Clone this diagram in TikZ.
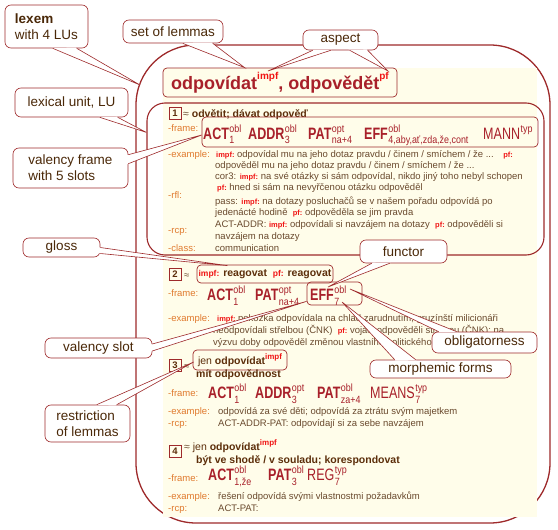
\documentclass[tikz,border=0pt]{standalone}
\usepackage{fontspec}
\setmainfont{Liberation Sans}
\newfontfamily\slotfont[FakeStretch=0.76]{Liberation Sans}
\newfontfamily\slotscrfont[FakeStretch=0.85]{Liberation Sans}
\usetikzlibrary{calc}

\definecolor{lnred}{HTML}{9E2A2B}
\definecolor{slotred}{HTML}{A8202A}
\definecolor{hired}{HTML}{F01414}
\definecolor{lblorange}{HTML}{E07A2E}
\definecolor{bodytxt}{HTML}{6A4A2E}
\definecolor{glosstxt}{HTML}{5C2E0A}
\definecolor{calltxt}{HTML}{4A2808}
\definecolor{cream}{HTML}{FFFDEA}

\newcommand\bodyfont{\fontsize{9.5}{11}\selectfont}
\newcommand\glossfont{\fontsize{10.5}{12}\selectfont\bfseries}
\newcommand\callfont{\fontsize{13.5}{16}\selectfont}
\newcommand\framefont{\slotfont\fontsize{16.5}{18}\selectfont}
\newcommand\lemmafont{\fontsize{18}{20}\selectfont\bfseries}

% red aspect marks
\newcommand\ipf{{\color{hired}\fontsize{7.5}{9}\selectfont\bfseries impf:}}
\newcommand\pff{{\color{hired}\fontsize{7.5}{9}\selectfont\bfseries pf:}}
\newcommand\supred[1]{\raisebox{5pt}{\color{hired}\fontsize{8}{9}\selectfont\bfseries #1}}
\newcommand\lemsup[1]{\raisebox{10pt}{\color{hired}\fontsize{10}{11}\selectfont\bfseries #1}}

% valency slot: functor with stacked scripts
\newcommand\slotscripts[2]{{\slotscrfont\fontsize{10.5}{12}\selectfont\mdseries
  \setbox0=\hbox{\raisebox{7pt}{#1}}\setbox2=\hbox{\raisebox{-5pt}{#2}}%
  \ifdim\wd0>\wd2\relax\rlap{\box2}\box0\else\rlap{\box0}\box2\fi}}
\newcommand\valslot[3]{\textbf{#1}\kern0.5pt\slotscripts{#2}{#3}}
\newcommand\valslotn[3]{#1\kern0.5pt\slotscripts{#2}{#3}}

% callout pointer
\newcommand\pointto[3]{%
  \fill[white] ($(#1)!-1.2pt!(#3)$) -- (#3) -- ($(#2)!-1.2pt!(#3)$) -- cycle;
  \draw[pointer] (#1) -- (#3) -- (#2);}

\begin{document}
\begin{tikzpicture}[x=1pt,y=-1pt,
  every node/.style={inner sep=0pt},
  lexbox/.style={draw=lnred, line width=1.3pt, fill=white, rounded corners=60pt},
  lubox/.style={draw=lnred, line width=1.1pt, rounded corners=18pt},
  lemmabox/.style={draw=lnred, line width=0.7pt, rounded corners=4pt, fill=cream, text=slotred, font=\lemmafont},
  numbox/.style={draw=lnred, line width=0.7pt, minimum width=12pt, minimum height=12pt, text=glosstxt, font=\bodyfont\bfseries},
  hlbox/.style={draw=lnred, line width=0.7pt, rounded corners=4pt},
  lbl/.style={anchor=base west, text=lblorange, font=\bodyfont},
  ln/.style={anchor=base west, text=bodytxt, font=\bodyfont},
  gl/.style={anchor=base west, text=glosstxt, font=\glossfont},
  slotlbl/.style={anchor=base west, text=slotred, font=\framefont},
  callout/.style={draw=lnred, line width=0.6pt, fill=white, rounded corners=6pt, text=calltxt, font=\callfont, align=left},
  pointer/.style={draw=lnred, line width=0.6pt, line join=miter}
]
\useasboundingbox (0,0) rectangle (558,530);

% lexeme
\node[lexbox, minimum width=414pt, minimum height=478pt] (lexeme) at (343,284) {};
\fill[cream] (163,68) rectangle (537,517);
\node[lemmabox, minimum width=234pt, minimum height=29pt] (lemmas) at (280,82.5)
  {odpovídat\lemsup{impf}, odpovědět\lemsup{pf}};

% lexical unit 1
\node[lubox, minimum width=397pt, minimum height=152pt] (lu1) at (345.5,179) {};
\foreach \n/\yy in {1/113,2/274,3/365,4/451}
  \node[numbox] (num\n) at (175,\yy) {\n};
\foreach \lab/\yy [count=\i] in {-frame:/131,-example:/157,-rfl:/198,-rcp:/233,-class:/251,
    -frame:/296,-example:/321,-frame:/396,-example:/414,-rcp:/426,-frame:/481,-example:/499,-rcp:/511}
  \node[lbl] (lab\i) at (168,\yy) {\lab};

\node[gl] (gloss1) at (183,117) {\mdseries\color{bodytxt}≈ \color{glosstxt}\bfseries odvětit; dávat odpověď};
\node[hlbox, minimum width=336pt, minimum height=30pt] (frame1) at (370,132) {};
\node[slotlbl] (act1) at (203,139) {\valslot{ACT}{obl}{1}};
\node[slotlbl] (addr1) at (248,139) {\valslot{ADDR}{obl}{3}};
\node[slotlbl] (pat1) at (308,139) {\valslot{PAT}{opt}{na+4}};
\node[slotlbl] (eff1) at (364,139) {\valslot{EFF}{obl}{4,aby,ať,zda,že,cont}};
\node[slotlbl] (mann1) at (483,139) {\valslotn{MANN}{typ}{}};

\node[ln] (ex1a) at (216,157) {\ipf\ odpovídal mu na jeho dotaz pravdu / činem / smíchem / že ...\quad\pff};
\node[ln] (ex1b) at (215,168) {odpověděl mu na jeho dotaz pravdu / činem / smíchem / že ...};
\node[ln] (ex1c) at (215,179) {cor3: \ipf\ na své otázky si sám odpovídal, nikdo jiný toho nebyl schopen};
\node[ln] (ex1d) at (217,190) {\pff\ hned si sám na nevyřčenou otázku odpověděl};
\node[ln] (ex1e) at (215,204) {pass: \ipf\ na dotazy posluchačů se v našem pořadu odpovídá po};
\node[ln] (ex1f) at (215,215) {jedenácté hodině \ \pff\ odpověděla se jim pravda};
\node[ln] (ex1g) at (215,227) {ACT-ADDR: \ipf\ odpovídali si navzájem na dotazy \ \pff\ odpověděli si};
\node[ln] (ex1h) at (215,239) {navzájem na dotazy};
\node[ln] (ex1i) at (215,251) {communication};

% lexical unit 2
\node[ln] (ap2) at (184,278) {≈};
\node[hlbox, minimum width=136pt, minimum height=18pt, text=glosstxt, font=\glossfont] (gloss2) at (265,274)
  {{\color{hired}\fontsize{8.5}{10}\selectfont impf:} reagovat\ \ {\color{hired}\fontsize{8.5}{10}\selectfont pf:} reagovat};
\node[slotlbl] (act2) at (207,300) {\valslot{ACT}{obl}{1}};
\node[slotlbl] (pat2) at (255,300) {\valslot{PAT}{opt}{na+4}};
\node[slotlbl] (eff2) at (310,300) {\valslot{EFF}{obl}{7}};
\node[hlbox, minimum width=55pt, minimum height=23pt] (effbox) at (334.5,293.5) {};
\node[ln] (ex2a) at (217,321) {\ipf\ pokožka odpovídala na chlad zarudnutím; gruzínští milicionáři};
\node[ln] (ex2b) at (213,333) {neodpovídali střelbou (ČNK) \ \pff\ vojáci odpověděli střelbou (ČNK); na};
\node[ln] (ex2c) at (213,345) {výzvu doby odpověděl změnou vlastního politického};

% lexical unit 3
\node[ln] (ap3) at (184,369) {≈};
\node[hlbox, minimum width=94pt, minimum height=20pt, text=glosstxt, font=\glossfont] (restr3) at (240,360)
  {\mdseries jen \bfseries odpovídat\supred{impf}};
\node[gl] (gloss3) at (196,377) {mít odpovědnost};
\node[slotlbl] (act3) at (208,398) {\valslot{ACT}{obl}{1}};
\node[slotlbl] (addr3) at (255,398) {\valslot{ADDR}{opt}{3}};
\node[slotlbl] (pat3) at (317,398) {\valslot{PAT}{obl}{za+4}};
\node[slotlbl] (means3) at (370,398) {\valslotn{MEANS}{typ}{7}};
\node[ln] (ex3a) at (218,414) {odpovídá za své děti; odpovídá za ztrátu svým majetkem};
\node[ln] (ex3b) at (218,426) {ACT-ADDR-PAT: odpovídají si za sebe navzájem};

% lexical unit 4
\node[gl] (restr4) at (184,450) {\mdseries\color{bodytxt}≈ \color{glosstxt}jen \bfseries odpovídat\supred{impf}};
\node[gl] (gloss4) at (196,463) {být ve shodě / v souladu; korespondovat};
\node[slotlbl] (act4) at (208,480) {\valslot{ACT}{obl}{1,že}};
\node[slotlbl] (pat4) at (268,480) {\valslot{PAT}{obl}{3}};
\node[slotlbl] (reg4) at (307,480) {\valslotn{REG}{typ}{7}};
\node[ln] (ex4a) at (218,499) {řešení odpovídá svými vlastnostmi požadavkům};
\node[ln] (ex4b) at (218,511) {ACT-PAT:};

% callouts
\node[callout, minimum width=83pt, minimum height=43pt] (lexem) at (46.5,26.5) {\textbf{lexem}\\with 4 LUs};
\coordinate (lexA) at ($(lexem.south west)+(48,0)$);
\coordinate (lexB) at ($(lexem.south west)+(72,0)$);
\coordinate (lextip) at (140,85);
\pointto{lexA}{lexB}{lextip}

\node[callout, minimum width=100pt, minimum height=23pt] (setlem) at (173,31.5) {set of lemmas};
\coordinate (setA) at ($(setlem.south west)+(60,0)$);
\coordinate (setB) at ($(setlem.south west)+(90,0)$);
\coordinate (settip) at ($(lemmas.north west)+(82,0)$);
\pointto{setA}{setB}{settip}

\node[callout, minimum width=75pt, minimum height=20pt] (aspect) at (340.5,40) {aspect};
\coordinate (aspA) at ($(aspect.south west)+(10,0)$);
\coordinate (aspB) at ($(aspect.south west)+(28,0)$);
\coordinate (aspC) at ($(aspect.south west)+(47,0)$);
\coordinate (aspD) at ($(aspect.south west)+(65,0)$);
\coordinate (imptip) at (268,71);
\coordinate (pftip) at (388,71);
\pointto{aspA}{aspB}{imptip}
\pointto{aspC}{aspD}{pftip}

\node[callout, minimum width=113pt, minimum height=29pt] (lu) at (71.5,102.5) {lexical unit, LU};
\coordinate (luA) at ($(lu.south west)+(85,0)$);
\coordinate (luB) at ($(lu.south west)+(103,0)$);
\coordinate (lutip) at ($(lu1.north west)+(0,30)$);
\pointto{luA}{luB}{lutip}

\node[callout, minimum width=115pt, minimum height=40pt] (vframe) at (70.5,168) {valency frame\\with 5 slots};
\coordinate (vfA) at ($(vframe.north east)+(0,7)$);
\coordinate (vfB) at ($(vframe.north east)+(0,16)$);
\coordinate (vftip) at ($(frame1.west)+(0,3)$);
\pointto{vfA}{vfB}{vftip}

\node[callout, minimum width=77pt, minimum height=19pt] (gloss) at (61.5,247.5) {gloss};
\coordinate (glA) at ($(gloss.east)+(0,0)$);
\coordinate (glB) at ($(gloss.east)+(0,6)$);
\coordinate (gltip) at ($(gloss2.north west)+(31,1)$);
\pointto{glA}{glB}{gltip}

\node[callout, minimum width=107pt, minimum height=20pt] (vslot) at (98.5,348) {valency slot};
\coordinate (vsA) at ($(vslot.east)+(0,-4)$);
\coordinate (vsB) at ($(vslot.east)+(0,3)$);
\coordinate (vstip) at ($(effbox.south west)+(0,-4)$);
\pointto{vsA}{vsB}{vstip}

\node[callout, minimum width=87pt, minimum height=23pt] (functor) at (403.5,251.5) {functor};
\coordinate (fnA) at ($(functor.south west)+(12,0)$);
\coordinate (fnB) at ($(functor.south west)+(30,0)$);
\coordinate (fntip) at (328,287);
\pointto{fnA}{fnB}{fntip}

\node[callout, minimum width=105pt, minimum height=21pt] (oblig) at (484.5,342.5) {obligatorness};
\coordinate (obA) at ($(oblig.north west)+(7,0)$);
\coordinate (obB) at ($(oblig.north west)+(25,0)$);
\coordinate (obtip) at (350,289);
\pointto{obA}{obB}{obtip}

\node[callout, minimum width=141pt, minimum height=18pt] (morph) at (440.5,369) {morphemic forms};
\coordinate (mfA) at ($(morph.north west)+(25,0)$);
\coordinate (mfB) at ($(morph.north west)+(46,0)$);
\coordinate (mftip) at (342,302);
\pointto{mfA}{mfB}{mftip}

\node[callout, minimum width=85pt, minimum height=37pt] (restr) at (87.5,423.5) {restriction\\of lemmas};
\coordinate (rsA) at ($(restr.north west)+(52,0)$);
\coordinate (rsB) at ($(restr.north west)+(72,0)$);
\coordinate (rstip) at ($(restr3.west)+(1,2)$);
\pointto{rsA}{rsB}{rstip}
\end{tikzpicture}
\end{document}
